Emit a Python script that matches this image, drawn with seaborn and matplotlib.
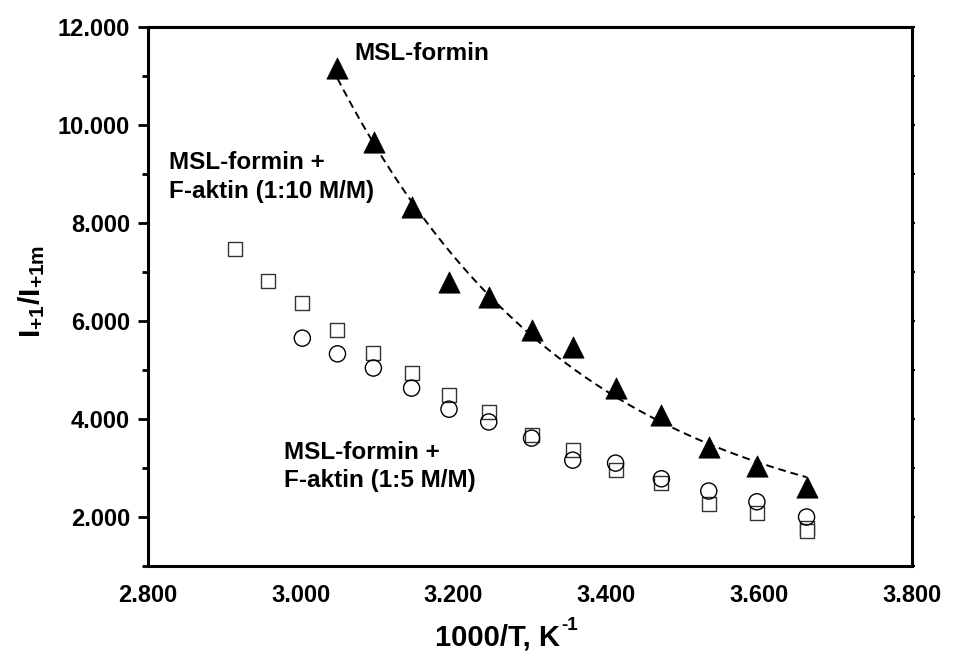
import numpy as np
import pandas as pd
import matplotlib
matplotlib.use("Agg")
import matplotlib.pyplot as plt
import seaborn as sns
from matplotlib.ticker import MultipleLocator, FormatStrFormatter

# ---- data ----
tri_x = [3.048, 3.096, 3.145, 3.194, 3.246, 3.302, 3.356, 3.412, 3.472, 3.534, 3.597, 3.662]
tri_y = [11.16, 9.65, 8.33, 6.80, 6.49, 5.82, 5.47, 4.63, 4.08, 3.43, 3.04, 2.61]

sq_x = [2.914, 2.957, 3.002, 3.048, 3.095, 3.145, 3.194, 3.246, 3.302, 3.356,
        3.412, 3.472, 3.534, 3.597, 3.662, 3.662]
sq_y = [7.47, 6.82, 6.37, 5.82, 5.35, 4.94, 4.49, 4.14, 3.67, 3.37,
        2.96, 2.69, 2.27, 2.08, 1.78, 1.71]

circ_x = [3.002, 3.048, 3.095, 3.145, 3.194, 3.246, 3.302, 3.356, 3.412, 3.472,
          3.534, 3.597, 3.662]
circ_y = [5.65, 5.33, 5.04, 4.63, 4.20, 3.94, 3.61, 3.16, 3.10, 2.78,
          2.53, 2.31, 2.00]

x_label_main = "1000/T, K"
x_label_sup = "-1"
y_label = "$I_{+1}/I_{+1m}$"
lbl_free = "MSL-formin"
lbl_10 = "MSL-formin +\nF-aktin (1:10 M/M)"
lbl_5 = "MSL-formin +\nF-aktin (1:5 M/M)"

# ---- style ----
sns.set_theme(style="white")
plt.rcParams["font.family"] = ["Liberation Sans", "DejaVu Sans"]
plt.rcParams["font.weight"] = "bold"
plt.rcParams["text.color"] = "black"
plt.rcParams["axes.labelcolor"] = "black"
plt.rcParams["xtick.color"] = "black"
plt.rcParams["ytick.color"] = "black"
plt.rcParams["mathtext.fontset"] = "custom"
plt.rcParams["mathtext.rm"] = "Liberation Sans:bold"
plt.rcParams["mathtext.it"] = "Liberation Sans:bold"
plt.rcParams["mathtext.bf"] = "Liberation Sans:bold"
plt.rcParams["mathtext.default"] = "bf"

fig = plt.figure(figsize=(9.62, 6.54), dpi=100)
ax = fig.add_axes([148 / 962, 1 - 566 / 654, (912 - 148) / 962, (566 - 27) / 654])

# exponential-with-offset fit of the MSL-formin series (dashed curve)
tx = np.array(tri_x)
ty = np.array(tri_y)
best = None
for k in np.linspace(0.2, 15, 3000):
    B = np.column_stack([np.ones_like(tx), np.exp(-k * (tx - tx[0]))])
    coef, *_ = np.linalg.lstsq(B, ty, rcond=None)
    r = np.sum((B @ coef - ty) ** 2)
    if best is None or r < best[0]:
        best = (r, k, coef)
_, kb, cb = best
fx = np.linspace(tx.min(), tx.max(), 200)
fy = cb[0] + cb[1] * np.exp(-kb * (fx - tx[0]))
fit_df = pd.DataFrame({"x": fx, "y": fy})
sns.lineplot(data=fit_df, x="x", y="y", ax=ax, color="black", lw=1.4,
             linestyle=(0, (4, 2.5)), zorder=2)

df_sq = pd.DataFrame({"x": sq_x, "y": sq_y})
df_c = pd.DataFrame({"x": circ_x, "y": circ_y})
df_t = pd.DataFrame({"x": tri_x, "y": tri_y})

sns.scatterplot(data=df_sq, x="x", y="y", ax=ax, marker="s", s=100,
                facecolor="white", edgecolor="#333333", linewidth=1.0, zorder=3)
sns.scatterplot(data=df_c, x="x", y="y", ax=ax, marker="o", s=135,
                facecolor="none", edgecolor="black", linewidth=1.0, zorder=4)
sns.scatterplot(data=df_t, x="x", y="y", ax=ax, marker="^", s=235,
                color="black", edgecolor="black", linewidth=0.5, zorder=5)

ax.set_xlim(2.8, 3.8)
ax.set_ylim(1.0, 12.0)
ax.xaxis.set_major_locator(MultipleLocator(0.2))
ax.xaxis.set_minor_locator(MultipleLocator(0.1))
ax.yaxis.set_major_locator(MultipleLocator(2))
ax.yaxis.set_minor_locator(MultipleLocator(1))
ax.xaxis.set_major_formatter(FormatStrFormatter("%.3f"))
ax.yaxis.set_major_formatter(FormatStrFormatter("%.3f"))

for sp in ax.spines.values():
    sp.set_visible(True)
    sp.set_linewidth(2.2)
    sp.set_color("black")

ax.tick_params(axis="both", which="major", direction="out", length=7, width=2,
               labelsize=17, pad=6)
ax.tick_params(axis="both", which="minor", direction="out", length=4, width=2)
ax.tick_params(axis="both", which="both", top=False, right=False)
for lab in ax.get_xticklabels() + ax.get_yticklabels():
    lab.set_fontweight("bold")

# short ticks on the right spine
ax2 = ax.twinx()
ax2.set_ylim(ax.get_ylim())
ax2.yaxis.set_major_locator(MultipleLocator(2))
ax2.yaxis.set_minor_locator(MultipleLocator(1))
ax2.tick_params(axis="y", which="both", direction="out", length=2.5, width=1.5,
                labelright=False)
for sp in ax2.spines.values():
    sp.set_visible(False)

ax.set_xlabel("")
ax.set_ylabel("")
xl = fig.text(435 / 962, 1 - 638 / 654, x_label_main, ha="left", va="center",
              fontsize=21, fontweight="bold")
fig.canvas.draw()
bb = xl.get_window_extent()
fig.text((bb.x1 + 1) / 962, (bb.y1 - 2) / 654, x_label_sup, ha="left",
         va="center", fontsize=13.5, fontweight="bold")
fig.text(32 / 962, 1 - 291 / 654, y_label, ha="center", va="center",
         rotation=90, fontsize=21.5, fontweight="bold")

ax.text(3.07, 11.45, lbl_free, fontsize=17.5, fontweight="bold",
        ha="left", va="center")
ax.text(2.828, 8.93, lbl_10, fontsize=17.5, fontweight="bold",
        ha="left", va="center", linespacing=1.33)
ax.text(2.978, 3.03, lbl_5, fontsize=17.5, fontweight="bold",
        ha="left", va="center", linespacing=1.33)

fig.savefig("out.png", dpi=100, facecolor="white")
